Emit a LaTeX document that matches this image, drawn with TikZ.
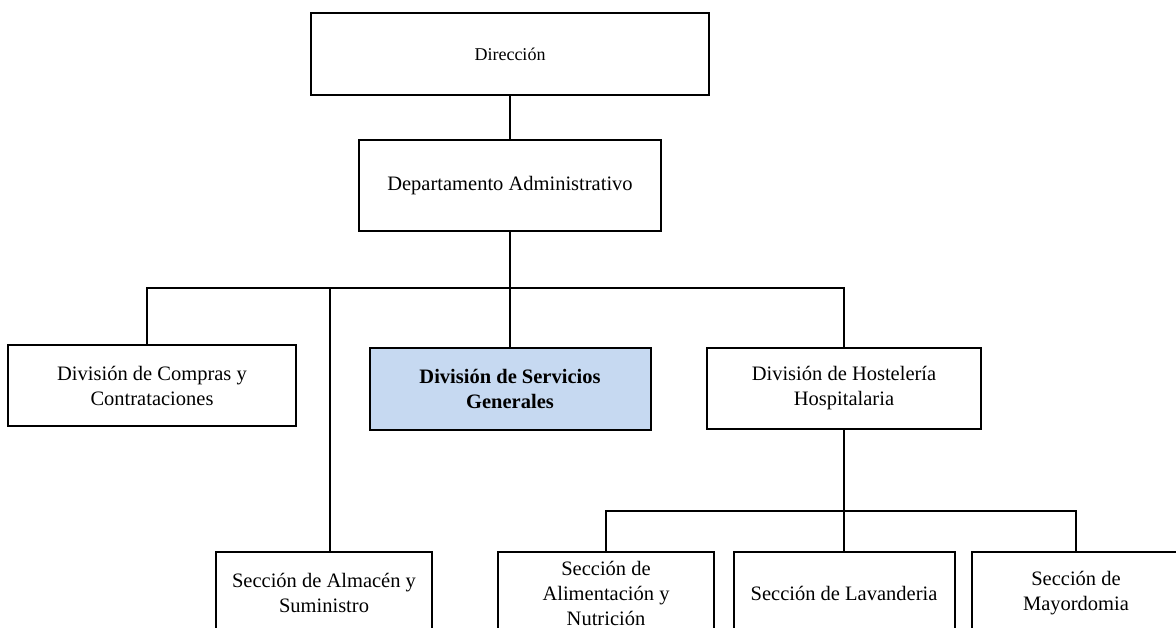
\documentclass[tikz,border=0pt]{standalone}
\usepackage{fontspec}
\setmainfont{Liberation Serif}
\usepackage{tikz}
\usetikzlibrary{positioning}
\definecolor{highlight}{HTML}{C6D9F1}

\tikzset{
  unit/.style={draw, line width=1pt, align=center, inner sep=2pt,
    font=\fontsize{10.25pt}{12.5pt}\selectfont},
  link/.style={line width=0.9pt}
}

\begin{document}
\begin{tikzpicture}[x=0.5pt, y=-0.5pt]
\useasboundingbox (0,0) rectangle (1176,627);
\clip (0,0) rectangle (1176,627);
% levels
\node[unit, minimum width=199pt, minimum height=41pt, font=\fontsize{9pt}{11pt}\selectfont] (dir) at (510,54) {Direcci\'on};
\node[unit, minimum width=151pt, minimum height=45.5pt] (dep) at (510,185.5) {Departamento Administrativo};
\node[unit, minimum width=144pt, minimum height=40.5pt] (compras) at (152,385.5) {Divisi\'on de Compras y\\Contrataciones};
\node[unit, minimum width=140.5pt, minimum height=41pt, fill=highlight, font=\fontsize{10.25pt}{12.5pt}\selectfont\bfseries] (serv) at (510,389) {Divisi\'on de Servicios\\Generales};
\node[unit, minimum width=137pt, minimum height=40.5pt] (host) at (844,388.5) {Divisi\'on de Hosteler\'ia\\Hospitalaria};
\node[unit, minimum width=108pt, minimum height=41pt] (almacen) at (324,593) {Secci\'on de Almac\'en y\\Suministro};
\node[unit, minimum width=108pt, minimum height=41pt] (alim) at (606,593) {Secci\'on de\\Alimentaci\'on y\\Nutrici\'on};
\node[unit, minimum width=110.5pt, minimum height=41pt] (lav) at (844,593) {Secci\'on de Lavanderia};
\node[unit, minimum width=104pt, minimum height=41pt] (mayor) at (1076,593) {Secci\'on de\\Mayordomia};
% connectors
\coordinate (bus1) at (510,288);
\coordinate (bus2) at (844,511);
\draw[link] (dir) -- (dep);
\draw[link] (dep) -- (serv);
\draw[link] ([xshift=-2.5pt]compras.north) |- (bus1) -| (host.north);
\draw[link] ([xshift=3pt]almacen.north) -- ([xshift=3pt]almacen.north |- bus1);
\draw[link] (host) -- (lav);
\draw[link] (alim.north) |- (bus2) -| (mayor.north);
\end{tikzpicture}
\end{document}
